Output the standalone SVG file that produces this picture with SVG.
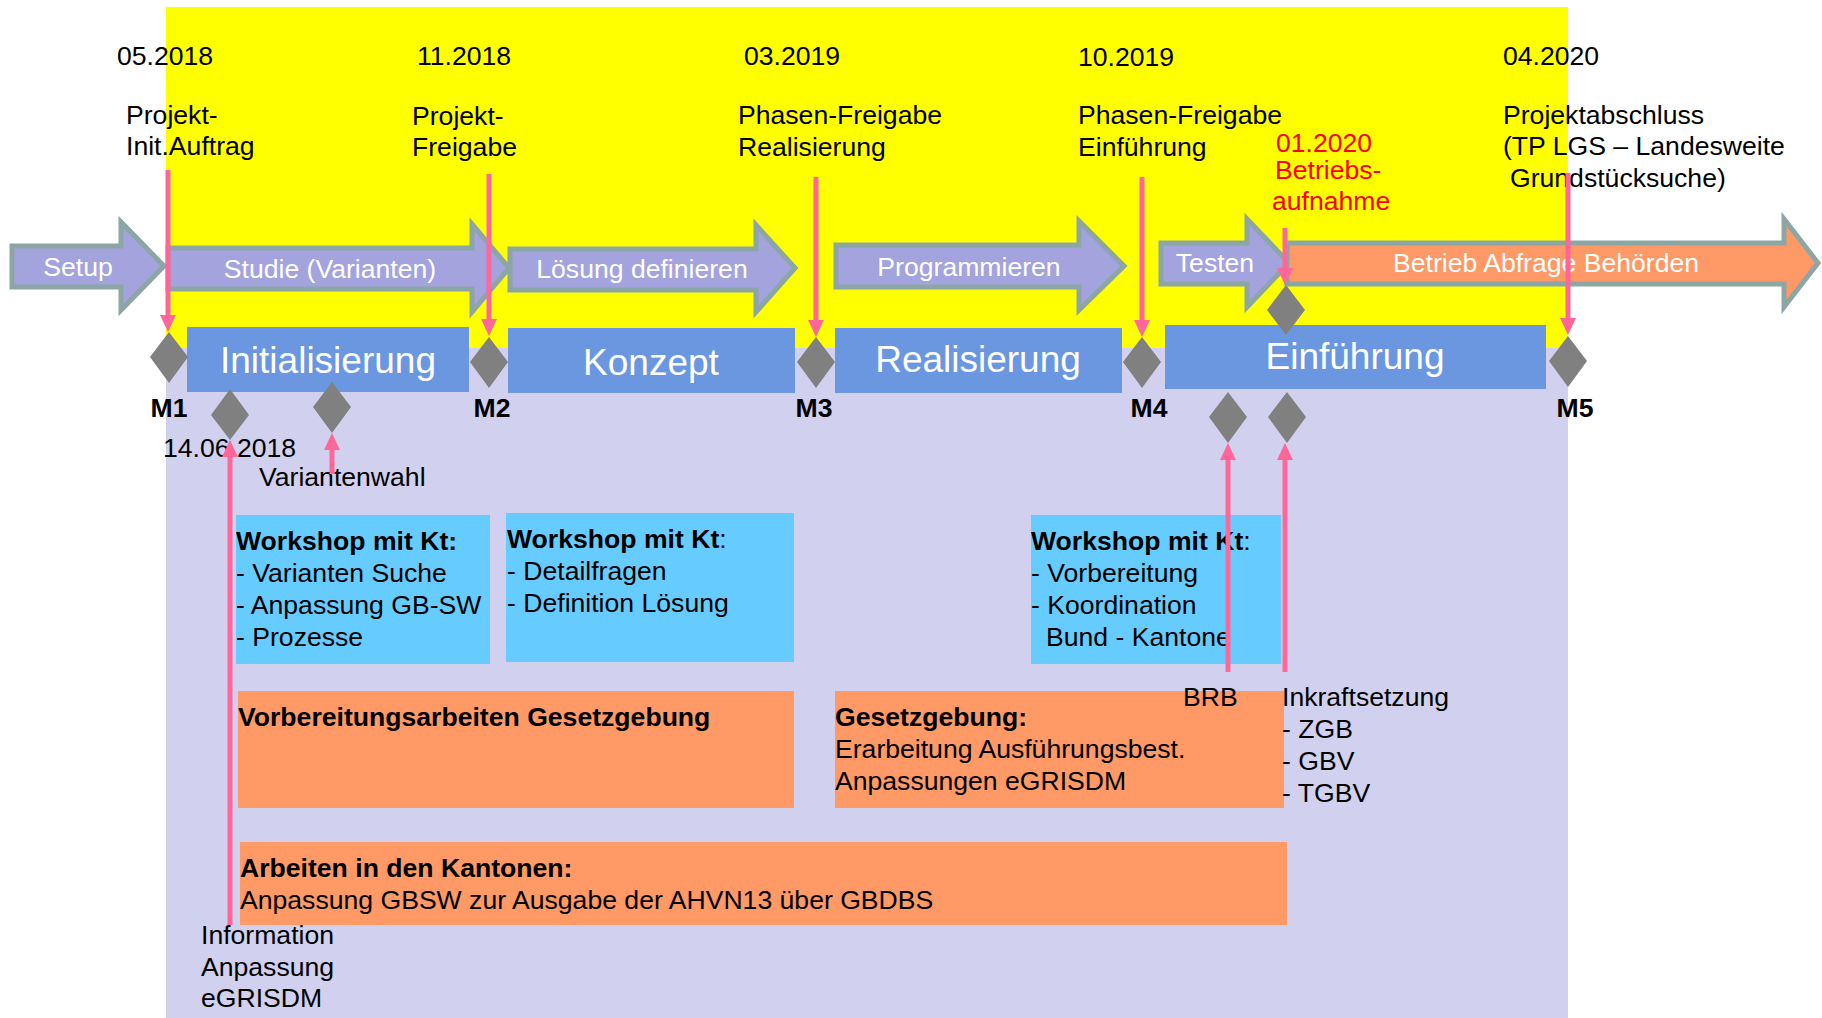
<svg xmlns="http://www.w3.org/2000/svg" width="1822" height="1018" viewBox="0 0 1822 1018">
<style>
text{font-family:"Liberation Sans",Arial,sans-serif;font-size:26.6px;fill:#000}
.b{font-weight:bold}
.w{fill:#fff}
.big{font-size:37px;fill:#fff}
.red{fill:#ff0000}
.mid{text-anchor:middle}
.arr{fill:#a3a3de;stroke:#8ca5a5;stroke-width:5}
.arro{fill:#ff9966;stroke:#8ca5a5;stroke-width:5}
.phase{fill:#6a97e0}
.ws{fill:#66ccff}
.or{fill:#ff9966}
.dia{fill:#808080}
.pk{stroke:#ff6699;stroke-width:5;fill:none}
</style>
<defs>
<marker id="ah" viewBox="0 0 17 16" refX="1" refY="8" markerWidth="17" markerHeight="16" markerUnits="userSpaceOnUse" orient="auto">
<path d="M0,0 L17,8 L0,16 z" fill="#ff6699"/>
</marker>
</defs>
<rect width="1822" height="1018" fill="#fff"/>
<rect x="166" y="7" width="1402" height="341" fill="#ffff00"/>
<rect x="166" y="348" width="1402" height="670" fill="#d1d1ef"/>

<g id="arrow-setup"><polygon class="arr" points="12,246 121,246 121,222 164,266 121,310 121,287 12,287"/><text class="w mid" x="78" y="276">Setup</text></g>
<g id="arrow-studie"><polygon class="arr" points="168,248 472,248 472,224 509,268 472,312 472,289 168,289"/><text class="w mid" x="330" y="278">Studie (Varianten)</text></g>
<g id="arrow-loesung"><polygon class="arr" points="510,249 756,249 756,225 795,268 756,312 756,290 510,290"/><text class="w mid" x="642" y="278">Lösung definieren</text></g>
<g id="arrow-programmieren"><polygon class="arr" points="836,245 1079,245 1079,221 1124,266 1079,310 1079,287 836,287"/><text class="w mid" x="969" y="276">Programmieren</text></g>
<g id="arrow-testen"><polygon class="arr" points="1161,243 1247,243 1247,219 1289,263 1247,307 1247,284 1161,284"/><text class="w mid" x="1215" y="272">Testen</text></g>
<g id="arrow-betrieb"><polygon class="arro" points="1287,243 1784,243 1784,219 1818,263 1784,307 1784,284 1287,284"/><text class="w mid" x="1546" y="272">Betrieb Abfrage Behörden</text></g>

<g id="phase-init"><rect class="phase" x="187" y="327" width="282" height="65"/><text class="big mid" x="328" y="373">Initialisierung</text></g>
<g id="phase-konzept"><rect class="phase" x="508" y="328" width="287" height="65"/><text class="big mid" x="651" y="375">Konzept</text></g>
<g id="phase-real"><rect class="phase" x="835" y="328" width="287" height="65"/><text class="big mid" x="978" y="372">Realisierung</text></g>
<g id="phase-einf"><rect class="phase" x="1165" y="325" width="381" height="64"/><text class="big mid" x="1355" y="369">Einführung</text></g>

<g id="labels-top">
<text x="117" y="65">05.2018</text>
<text x="417" y="65">11.2018</text>
<text x="744" y="65">03.2019</text>
<text x="1078" y="66">10.2019</text>
<text x="1503" y="65">04.2020</text>
<text x="126" y="124">Projekt-</text><text x="126" y="155">Init.Auftrag</text>
<text x="412" y="125">Projekt-</text><text x="412" y="156">Freigabe</text>
<text x="738" y="124">Phasen-Freigabe</text><text x="738" y="156">Realisierung</text>
<text x="1078" y="124">Phasen-Freigabe</text><text x="1078" y="156">Einführung</text>
<text x="1503" y="124">Projektabschluss</text><text x="1503" y="155">(TP LGS – Landesweite</text><text x="1510" y="187">Grundstücksuche)</text>
<text class="red" x="1276" y="152">01.2020</text><text class="red" x="1275" y="179">Betriebs-</text><text class="red" x="1272" y="210">aufnahme</text>
</g>

<g id="m-labels">
<text class="b mid" x="169" y="417">M1</text>
<text class="b mid" x="492" y="417">M2</text>
<text class="b mid" x="814" y="417">M3</text>
<text class="b mid" x="1149" y="417">M4</text>
<text class="b mid" x="1575" y="417">M5</text>
</g>

<g id="ws1"><rect class="ws" x="236" y="515" width="254" height="149"/>
<text class="b" x="236" y="550">Workshop mit Kt:</text>
<text x="236" y="582">- Varianten Suche</text>
<text x="236" y="614">- Anpassung GB-SW</text>
<text x="236" y="646">- Prozesse</text></g>
<g id="ws2"><rect class="ws" x="506" y="513" width="288" height="149"/>
<text x="507" y="548"><tspan class="b">Workshop mit Kt</tspan>:</text>
<text x="507" y="580">- Detailfragen</text>
<text x="507" y="612">- Definition Lösung</text></g>
<g id="ws3"><rect class="ws" x="1031" y="515" width="250" height="149"/>
<text x="1031" y="550"><tspan class="b">Workshop mit Kt</tspan>:</text>
<text x="1031" y="582">- Vorbereitung</text>
<text x="1031" y="614">- Koordination</text>
<text x="1046" y="646">Bund - Kantone</text></g>

<g id="gesetz-vorb"><rect class="or" x="238" y="691" width="556" height="117"/>
<text class="b" x="238" y="726">Vorbereitungsarbeiten Gesetzgebung</text></g>
<g id="gesetz"><rect class="or" x="835" y="691" width="449" height="117"/>
<text class="b" x="835" y="726">Gesetzgebung:</text>
<text x="835" y="758">Erarbeitung Ausführungsbest.</text>
<text x="835" y="790">Anpassungen eGRISDM</text></g>
<g id="kantone"><rect class="or" x="240" y="842" width="1047" height="83"/>
<text class="b" x="240" y="877">Arbeiten in den Kantonen:</text>
<text x="240" y="909">Anpassung GBSW zur Ausgabe der AHVN13 über GBDBS</text></g>

<g id="labels-bottom">
<text x="163" y="457">14.06.2018</text>
<text x="259" y="486">Variantenwahl</text>
<text x="1183" y="706">BRB</text>
<text x="1282" y="706">Inkraftsetzung</text>
<text x="1282" y="738">- ZGB</text>
<text x="1282" y="770">- GBV</text>
<text x="1282" y="802">- TGBV</text>
<text x="201" y="944">Information</text>
<text x="201" y="976">Anpassung</text>
<text x="201" y="1007">eGRISDM</text>
</g>

<g id="connectors" class="pk" marker-end="url(#ah)">
<line x1="168" y1="170" x2="168" y2="316"/>
<line x1="489" y1="174" x2="489" y2="320"/>
<line x1="816" y1="177" x2="816" y2="321"/>
<line x1="1142" y1="177" x2="1142" y2="321"/>
<line x1="1285" y1="228" x2="1285" y2="269"/>
<line x1="1568" y1="173" x2="1568" y2="319"/>
<line x1="230" y1="925" x2="230" y2="456"/>
<line x1="332" y1="474" x2="332" y2="449"/>
<line x1="1228" y1="672" x2="1228" y2="459"/>
<line x1="1285" y1="672" x2="1285" y2="459"/>
</g>

<g id="milestones">
<polygon id="m1" class="dia" points="169,332 188,357 169,383 150,357"/>
<polygon id="m2" class="dia" points="489,337 508,362 489,388 470,362"/>
<polygon id="m3" class="dia" points="816,337 835,362 816,388 797,362"/>
<polygon id="m4" class="dia" points="1142,337 1161,362 1142,388 1123,362"/>
<polygon id="m-betrieb" class="dia" points="1286,285 1305,310 1286,335 1267,310"/>
<polygon id="m5" class="dia" points="1568,336 1587,361 1568,387 1549,361"/>
<polygon id="m-1406" class="dia" points="230,389 249,415 230,440 211,415"/>
<polygon id="m-variante" class="dia" points="332,382 351,407 332,433 313,407"/>
<polygon id="m-brb" class="dia" points="1228,392 1247,417 1228,443 1209,417"/>
<polygon id="m-inkraft" class="dia" points="1287,392 1306,417 1287,443 1268,417"/>
</g>
</svg>
